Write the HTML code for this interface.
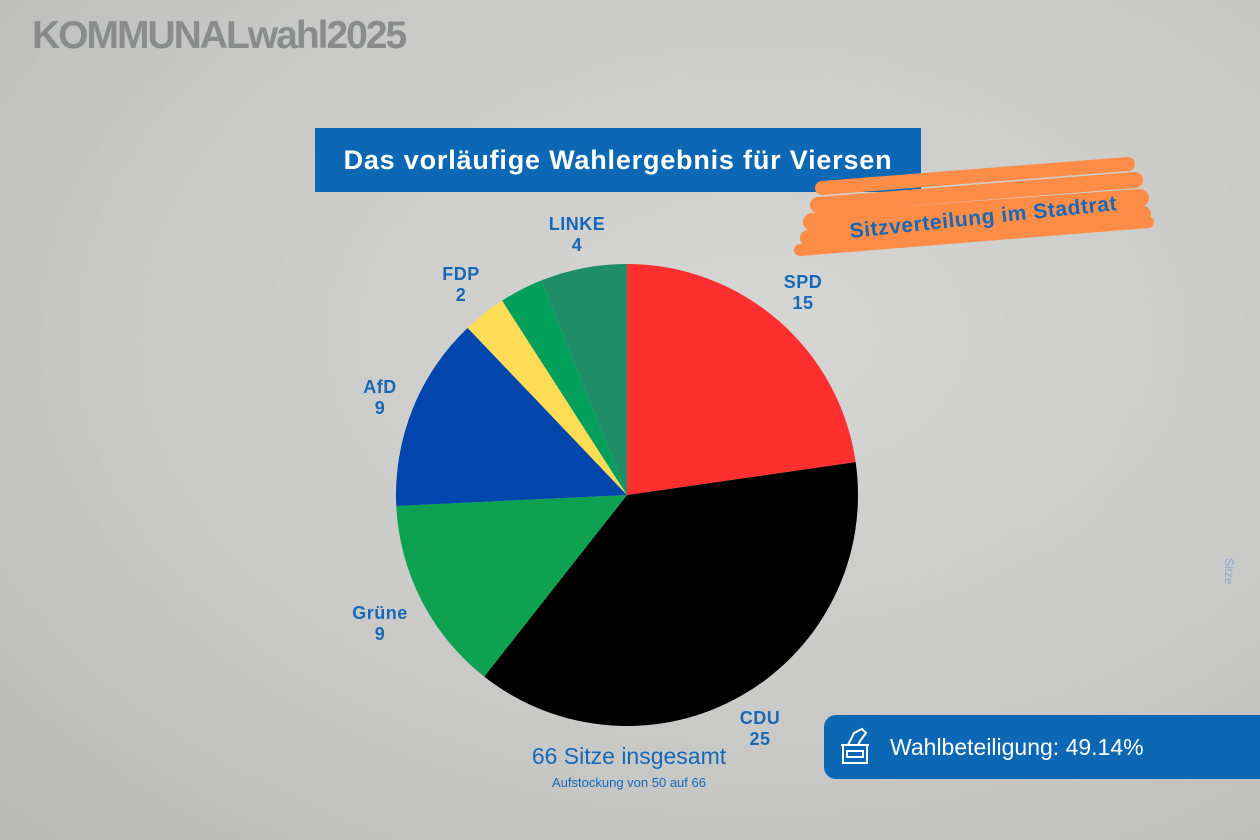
<!DOCTYPE html>
<html><head><meta charset="utf-8"><style>
body{margin:0;width:1260px;height:840px;overflow:hidden;font-family:"Liberation Sans",sans-serif;
background:radial-gradient(ellipse at 60% 40%,#d6d6d4 0%,#c8c8c6 60%,#b9b9b7 100%);position:relative}
.lbl{position:absolute;color:#1769b8;font-weight:bold;font-size:18px;text-align:center;line-height:21px;letter-spacing:0.5px}
</style></head><body>
<div style="position:absolute;left:32px;top:14px;font-size:39px;font-weight:bold;color:#8a8b8d;letter-spacing:-2px">KOMMUNALwahl2025</div>
<div style="position:absolute;left:315px;top:128px;width:606px;height:64px;background:#0c68b4;color:#fff;font-weight:bold;font-size:27px;line-height:64px;text-align:center;letter-spacing:0.8px">Das vorläufige Wahlergebnis für Viersen</div>
<svg width="1260" height="840" style="position:absolute;left:0;top:0">
<g stroke="#ff8c47" stroke-linecap="round" fill="none">
<path d="M822 188 L1128 164" stroke-width="14"/>
<path d="M818 205 L1135 180" stroke-width="16"/>
<path d="M812 222 L1140 198" stroke-width="18"/>
<path d="M808 238 L1143 214" stroke-width="16"/>
<path d="M800 250 L1148 222" stroke-width="12"/>
</g>
<text x="984" y="224" transform="rotate(-6 984 224)" text-anchor="middle" fill="#1769b8" font-size="21" font-weight="bold" letter-spacing="0.6" font-family="Liberation Sans,sans-serif">Sitzverteilung im Stadtrat</text>
<path d="M627 495 L627 264 A231 231 0 0 1 855.65 462.13Z" fill="#ff2f2f"/>
<path d="M627 495 L855.65 462.13 A231 231 0 0 1 484.21 676.58Z" fill="#000"/>
<path d="M627 495 L484.21 676.58 A231 231 0 0 1 396.26 505.99Z" fill="#0ea152"/>
<path d="M627 495 L396.26 505.99 A231 231 0 0 1 467.59 327.82Z" fill="#0046ad"/>
<path d="M627 495 L467.59 327.82 A231 231 0 0 1 502.11 300.67Z" fill="#ffdc55"/>
<path d="M627 495 L502.11 300.67 A231 231 0 0 1 541.15 280.55Z" fill="#00a05a"/>
<path d="M627 495 L541.15 280.55 A231 231 0 0 1 627 264Z" fill="#1f8e68"/>
<text x="1225" y="558" transform="rotate(90 1225 558)" fill="#8aaad0" font-size="12" font-family="Liberation Sans,sans-serif">Sitze</text>
</svg>
<div class="lbl" style="left:537px;top:214px;width:80px">LINKE<br>4</div>
<div class="lbl" style="left:431px;top:264px;width:60px">FDP<br>2</div>
<div class="lbl" style="left:773px;top:272px;width:60px">SPD<br>15</div>
<div class="lbl" style="left:350px;top:377px;width:60px">AfD<br>9</div>
<div class="lbl" style="left:337px;top:603px;width:86px">Grüne<br>9</div>
<div class="lbl" style="left:730px;top:708px;width:60px">CDU<br>25</div>
<div style="position:absolute;left:490px;top:743px;width:278px;text-align:center;color:#1769b8;font-size:23px">66 Sitze insgesamt</div>
<div style="position:absolute;left:490px;top:775px;width:278px;text-align:center;color:#1769b8;font-size:13px">Aufstockung von 50 auf 66</div>
<div style="position:absolute;left:824px;top:715px;width:450px;height:64px;background:#0c68b4;border-radius:12px;color:#fff;font-size:23px;line-height:64px">
<svg width="30" height="40" style="position:absolute;left:16px;top:12px" fill="none" stroke="#fff" stroke-width="2"><rect x="3" y="18" width="24" height="18"/><rect x="7" y="24" width="16" height="6"/><path d="M1 18 L29 18 M8 18 L14 6 L22 2 L26 6 L20 14 L18 18"/></svg>
<span style="position:absolute;left:66px">Wahlbeteiligung: 49.14%</span></div>
</body></html>
